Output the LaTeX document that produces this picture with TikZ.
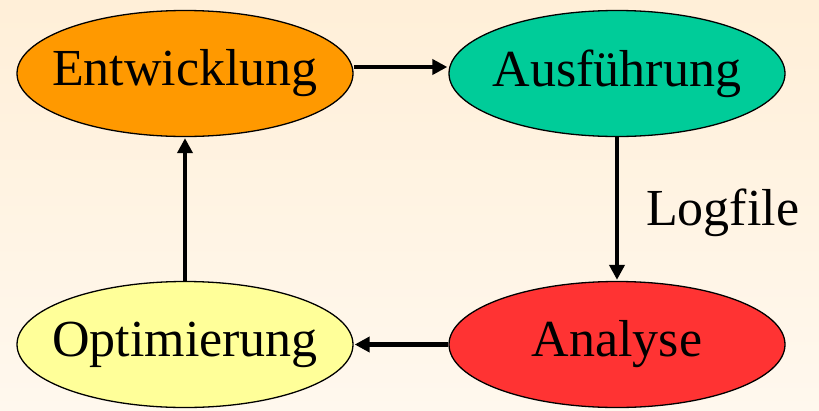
\documentclass[tikz,border=0pt]{standalone}
\usepackage{fontspec}
\setmainfont{Liberation Serif}
\usetikzlibrary{shapes.geometric,arrows.meta}
\definecolor{bgtop}{HTML}{FFEFD8}
\definecolor{bgbot}{HTML}{FFF8EE}
\definecolor{devcol}{HTML}{FF9900}
\definecolor{runcol}{HTML}{00CC99}
\definecolor{anacol}{HTML}{FF3333}
\definecolor{optcol}{HTML}{FFFF99}
\newcommand{\phasetext}[1]{\makebox[0pt]{#1}}
\tikzset{
  phase/.style={ellipse, draw=black, line width=1.3pt, minimum width=336pt,
    minimum height=126pt, inner sep=0pt, font=\fontsize{52}{60}\selectfont},
  flow/.style={line width=4.4pt, -{Triangle[length=15pt,width=15pt]}, shorten >=1pt}
}
\begin{document}
\begin{tikzpicture}[x=1pt,y=-1pt]
  % page background with a soft vertical gradient
  \shade[top color=bgtop, bottom color=bgbot] (0,0) rectangle (819,410);
  \useasboundingbox (0,0) rectangle (819,410);
  % the four phases of the cycle
  \node[phase, fill=devcol] (dev) at (185,73.5) {\phasetext{Entwicklung}};
  \node[phase, fill=runcol] (run) at (617,73.5) {\phasetext{Ausführung}};
  \node[phase, fill=anacol] (ana) at (617,344.5) {\phasetext{Analyse}};
  \node[phase, fill=optcol] (opt) at (185,344.5) {\phasetext{Optimierung}};
  % connectors between the phases
  \draw[flow] (dev.east |- 0,67) -- (run.west |- 0,67);
  \draw[flow] (run.south) -- (ana.north);
  \node[anchor=west, inner sep=0pt, font=\fontsize{52}{60}\selectfont] (log) at (646,213) {Logfile};
  \draw[flow] (ana.west) -- (opt.east);
  \draw[flow] (opt.north) -- (dev.south);
\end{tikzpicture}
\end{document}
